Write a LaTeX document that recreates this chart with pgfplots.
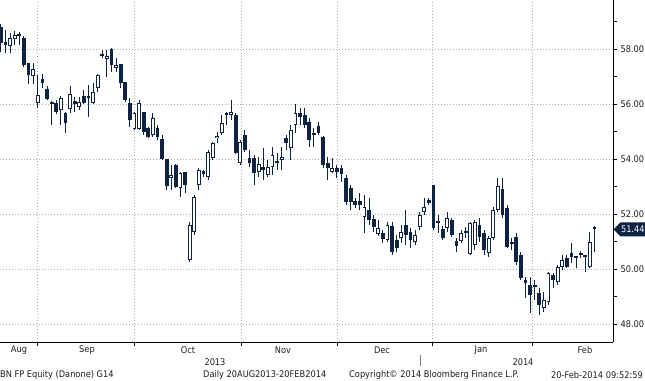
\documentclass[border=0pt]{standalone}
\usepackage{pgfplots}
\usepackage{pgfplotstable}
\pgfplotsset{compat=1.18}
\usepackage{fontspec}
\setmainfont{DejaVu Sans Condensed}
\definecolor{navy}{RGB}{14,34,66}
\definecolor{txt}{RGB}{30,30,30}
\definecolor{gridc}{RGB}{175,175,175}
\newcommand\fs{\fontsize{9.2}{11}\selectfont}

\pgfplotstableread{
x o h l c
0 58.80 58.91 57.89 58.22
1 58.25 58.69 57.85 58.15
2 58.11 58.58 57.85 58.40
3 58.36 58.65 58.15 58.51
4 58.51 58.62 58.15 58.49
5 58.40 58.47 57.35 57.42
6 57.49 57.49 56.73 57.05
7 57.02 57.49 56.73 57.27
8 56.04 57.05 55.85 56.33
9 56.91 57.09 56.58 56.76
10 56.55 56.65 56.15 56.18
11 56.07 56.11 55.24 56.00
12 56.04 56.15 55.64 55.71
13 55.78 56.29 55.24 56.22
14 55.67 55.71 54.95 55.31
15 55.82 56.65 55.67 56.36
16 56.11 56.25 55.71 56.00
17 55.89 56.25 55.78 56.07
18 56.29 56.51 56.00 56.04
19 56.25 56.69 55.53 56.22
20 56.04 56.76 56.00 56.44
21 56.58 57.09 56.44 57.05
22 57.82 57.96 57.67 57.75
23 57.64 57.96 56.98 57.75
24 58.00 58.04 57.16 57.42
25 57.31 57.67 57.16 57.42
26 57.45 57.45 56.58 56.76
27 56.80 56.80 56.07 56.15
28 56.04 56.22 55.16 55.42
29 55.09 55.71 55.05 55.67
30 55.09 56.15 55.05 56.04
31 55.71 55.71 54.87 54.98
32 55.13 55.16 54.76 54.80
33 54.87 55.67 54.80 55.49
34 55.13 55.24 54.69 54.80
35 54.73 54.87 53.96 54.00
36 54.00 54.00 52.87 53.02
37 53.31 53.78 52.87 53.42
38 53.78 53.82 52.95 52.98
39 52.95 53.53 52.62 53.49
40 53.53 53.53 52.76 53.05
41 50.33 51.71 50.26 51.60
42 51.35 52.69 51.24 52.62
43 53.05 53.67 52.87 53.60
44 53.56 53.60 53.35 53.45
45 53.35 54.33 53.24 54.26
46 54.04 54.62 53.96 54.58
47 54.76 54.98 54.58 54.84
48 54.95 55.60 54.87 55.31
49 55.60 55.71 55.24 55.62
50 55.60 56.15 55.42 55.71
51 55.60 55.67 54.18 54.22
52 53.85 54.69 53.78 54.62
53 54.87 55.05 54.26 54.33
54 54.04 54.33 53.71 53.85
55 54.04 54.15 53.05 53.49
56 53.53 54.07 53.35 53.82
57 53.71 54.40 53.24 53.60
58 53.42 53.96 53.35 53.71
59 53.71 54.44 53.42 54.15
60 53.85 54.20 53.60 53.87
61 53.96 54.44 53.60 54.07
62 54.76 54.87 54.33 54.58
63 54.40 55.24 53.96 55.05
64 55.24 56.00 54.95 55.67
65 55.67 55.85 55.24 55.53
66 55.60 55.85 55.13 55.24
67 55.35 55.49 54.44 54.69
68 54.87 55.13 54.44 54.89
69 55.20 55.35 54.87 54.95
70 54.80 54.84 53.67 53.78
71 53.85 54.07 53.24 53.67
72 53.53 54.04 53.49 53.67
73 53.67 53.78 53.31 53.53
74 53.67 53.78 53.16 53.45
75 53.31 53.42 52.33 52.44
76 52.95 53.05 52.15 52.44
77 52.47 52.58 52.22 52.33
78 52.47 52.76 52.15 52.33
79 51.89 52.69 51.31 52.25
80 52.15 52.58 51.60 51.78
81 51.82 51.96 51.35 51.53
82 51.27 51.78 51.20 51.49
83 51.31 51.42 50.95 51.09
84 51.05 51.71 50.98 51.60
85 51.56 51.71 50.51 50.62
86 51.05 51.24 50.62 50.77
87 51.13 51.60 50.95 51.35
88 51.60 52.15 50.87 51.24
89 51.35 51.49 50.77 51.05
90 50.98 51.42 50.87 51.24
91 51.53 52.07 51.42 51.96
92 52.07 52.58 51.96 52.25
93 52.51 52.58 52.33 52.40
94 53.05 53.05 51.42 51.49
95 51.75 51.96 51.31 51.67
96 51.45 51.56 51.05 51.13
97 51.49 52.07 51.35 51.85
98 51.78 51.85 51.16 51.24
99 51.02 51.13 50.62 50.84
100 51.02 51.42 50.95 51.31
101 51.31 51.53 51.13 51.35
102 50.55 51.71 50.51 51.67
103 50.87 51.78 50.69 51.71
104 51.60 51.85 50.98 51.16
105 51.31 51.42 50.51 50.69
106 50.58 51.20 50.44 51.13
107 51.13 52.25 51.05 52.15
108 52.15 53.31 52.07 53.02
109 52.91 53.31 51.85 51.96
110 52.22 52.33 50.77 50.80
111 50.98 51.13 50.69 50.91
112 51.16 51.31 50.15 50.26
113 50.51 50.62 49.60 49.67
114 49.60 49.71 48.95 49.49
115 49.42 49.71 48.40 49.05
116 49.42 49.60 48.87 49.35
117 49.13 49.31 48.33 48.69
118 48.58 49.16 48.44 48.87
119 48.80 49.89 48.69 49.85
120 49.78 49.85 49.31 49.60
121 49.53 50.15 49.42 50.07
122 50.07 50.51 49.96 50.33
123 50.40 50.51 50.04 50.07
124 50.58 50.95 50.22 50.44
125 50.40 50.47 50.04 50.42
126 50.58 50.65 50.40 50.51
127 50.45 50.47 49.89 50.43
128 50.07 51.35 50.04 50.98
129 51.53 51.56 50.62 51.44
}\ohlc

\begin{document}
\begin{tikzpicture}[x=1bp,y=1bp]
\begin{axis}[
  at={(0,0)}, anchor=south west,
  scale only axis, width=613bp, height=342bp,
  xmin=-0.217, xmax=133.04, ymin=47.345, ymax=59.782,
  axis x line*=bottom, axis y line*=right,
  axis line style={black, line width=0.8bp},
  tick align=outside,
  major tick length=4bp, minor tick length=4bp,
  every tick/.style={black, line width=0.8bp},
  xtick={7.83,28.91,52.17,73.04,93.70,115.43},
  xticklabels={},
  ytick={48,50,52,54,56,58},
  minor ytick={49,51,53,55,57,59},
  yticklabel style={font=\fs, text=txt, /pgf/number format/.cd, fixed, fixed zerofill, precision=2, assume math mode=true},
  grid=major,
  major grid style={gridc, line width=0.8bp, dash pattern=on 1bp off 2bp},
  every axis plot/.append style={draw=none, mark=none},
]
% wicks
\addplot+[draw=none, mark=none, error bars/.cd, y dir=plus, y explicit, error mark=none,
  error bar style={draw=navy, line width=1.0bp}]
  table[x=x, y=l, y error plus expr={\thisrow{h}-\thisrow{l}}] {\ohlc};
% bodies (outline / dark fill)
\addplot+[draw=none, mark=none, error bars/.cd, y dir=plus, y explicit, error mark=none,
  error bar style={draw=navy, line width=3.8bp, line cap=butt}]
  table[x=x, y expr={min(\thisrow{o},\thisrow{c})}, y error plus expr={max(abs(\thisrow{c}-\thisrow{o}),0.07)}] {\ohlc};
% white interior of rising candles
\addplot+[draw=none, mark=none, error bars/.cd, y dir=plus, y explicit, error mark=none,
  error bar style={draw=white, line width=1.9bp, line cap=butt}]
  table[x=x, y expr={\thisrow{o}+0.035}, y error plus expr={max(\thisrow{c}-\thisrow{o}-0.07,0)}] {\ohlc};
\end{axis}

% last price tag
\fill[navy] (613.5,112.6) -- (620.5,119.6) -- (645,119.6) -- (645,105.6) -- (620.5,105.6) -- cycle;
\node[text=white, font=\fs, inner sep=0] at (632.8,112.6) {51.44};

% axis labels and footer
\begin{scope}[every node/.style={font=\fs, text=txt, inner sep=0}]
\node at (19,-8.5) {Aug};
\node at (87,-8.5) {Sep};
\node at (188,-8.5) {Oct};
\node at (283,-8.5) {Nov};
\node at (382,-8.5) {Dec};
\node at (481,-8.5) {Jan};
\node at (585,-8.5) {Feb};
\node at (215,-20.5) {2013};
\node at (523,-20.5) {2014};
\node[anchor=west] at (0,-33) {BN FP Equity (Danone) G14};
\node[anchor=west] at (203,-33) {Daily 20AUG2013-20FEB2014};
\node[anchor=west] at (349,-33) {Copyright© 2014 Bloomberg Finance L.P.};
\node[anchor=east] at (643,-33) {20-Feb-2014 09:52:59};
\end{scope}
\draw[gray, line width=0.7bp] (420,-13) -- (420,-24);

\pgfresetboundingbox
\path[use as bounding box] (0,-38) rectangle (645,342);
\end{tikzpicture}
\end{document}
